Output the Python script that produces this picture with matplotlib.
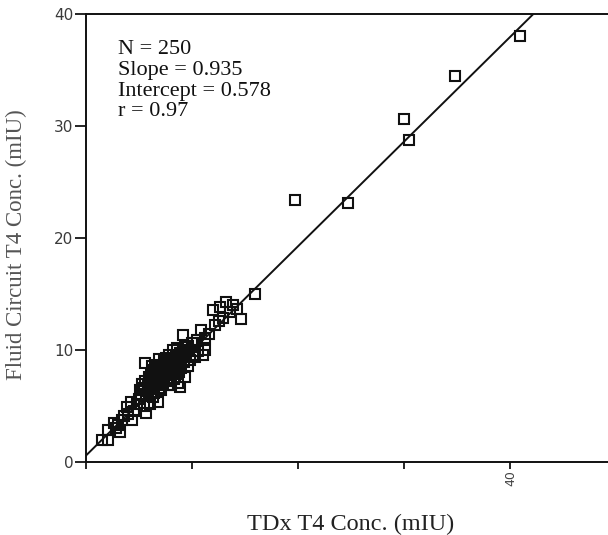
import matplotlib
matplotlib.use("Agg")
import matplotlib.pyplot as plt
import numpy as np

# TDx vs Fluid Circuit T4 concentrations
tdx = [1.5, 2.1, 2.1, 2.6, 3.2, 3.4, 4.3, 3.9, 4.2, 5.1, 5.7, 6.8, 2.8, 3.0, 3.6, 4.5, 4.8, 5.0, 4.0, 5.5, 6.0, 6.3,
       5.2, 5.4, 5.6, 5.8, 5.9, 6.0, 6.1, 6.2, 6.3, 6.4, 6.5, 6.6, 6.7, 6.8, 6.9, 7.0, 7.1, 7.2, 7.3, 7.4, 7.5, 7.6,
       7.7, 7.8, 7.9, 8.0, 8.1, 8.2, 8.3, 8.4, 8.5, 8.6, 8.7, 8.8, 8.9, 9.0, 9.1, 9.1, 9.2, 9.3, 9.4, 9.5, 9.6, 9.7,
       9.8, 10.0, 10.1, 5.6, 5.3, 5.7, 6.4, 7.1, 7.6, 8.0, 6.9, 6.2, 5.5, 6.0, 6.6, 7.3, 7.8, 8.6, 8.9, 9.3, 8.4, 7.0,
       6.8, 7.5, 8.2, 8.8,
       6.1, 6.3, 6.5, 6.7, 6.9, 7.1, 7.2, 7.4, 7.6, 7.7, 7.9, 8.1, 8.3, 8.5, 8.7, 8.9, 9.0, 9.2, 9.4, 9.6,
       5.8, 5.9, 6.1, 6.6, 7.0, 7.4, 7.8, 8.2, 8.5, 9.0,
       10.1, 10.3, 10.8, 11.2, 11.2, 12.0, 12.2, 12.9, 13.2, 14.2, 14.6, 15.9, 10.5, 11.6, 12.5, 13.6, 13.9, 11.0,
       10.6, 12.6,
       19.7, 24.7, 30.0, 30.4, 34.8, 40.9]
fluid = [2.0, 2.0, 2.85, 3.5, 2.7, 3.75, 3.75, 4.9, 5.4, 6.4, 4.4, 5.4, 3.0, 3.3, 4.1, 4.6, 5.2, 5.6, 4.3, 5.0, 5.2, 5.8,
         6.0, 6.6, 7.2, 6.3, 7.6, 6.8, 7.9, 7.1, 6.5, 8.2, 7.4, 6.9, 8.7, 7.7, 6.6, 8.0, 7.3, 8.5, 7.0, 9.0, 7.8, 8.3,
         6.9, 8.8, 7.5, 9.2, 8.1, 10.0, 7.4, 8.6, 9.5, 7.9, 7.1, 9.0, 6.7, 8.4, 9.8, 11.3, 8.9, 7.6, 9.4, 10.3, 8.6, 10.0,
         9.1, 10.6, 9.6, 8.8, 7.0, 5.9, 6.2, 6.4, 7.2, 6.9, 9.2, 8.6, 6.5, 7.5, 7.9, 8.1, 9.6, 10.2, 9.7, 10.4, 9.0, 7.0,
         8.3, 9.3, 8.4, 8.0,
         7.0, 7.4, 8.0, 7.6, 8.2, 8.4, 7.7, 8.1, 8.8, 8.0, 8.6, 9.0, 8.8, 9.0, 9.3, 9.2, 9.6, 9.9, 10.0, 10.4,
         7.0, 6.5, 6.2, 7.2, 7.6, 7.4, 7.9, 8.0, 8.3, 9.0,
         10.6, 9.4, 11.8, 11.1, 10.0, 13.6, 12.2, 12.9, 14.3, 13.7, 12.8, 15.0, 10.9, 11.4, 12.6, 13.4, 14.0, 9.6,
         9.9, 13.8,
         23.4, 23.1, 30.6, 28.75, 34.5, 38.0]

slope = 0.935
intercept = 0.578
stats = ["N = 250", "Slope = 0.935", "Intercept = 0.578", "r = 0.97"]

fig = plt.figure(figsize=(6.08, 5.35), dpi=100)
ax = fig.add_axes([0.1414, 0.1364, 0.8586, 0.8374])

ax.plot(tdx, fluid, 's', ms=7.5, mfc='none', mec='#111111', mew=1.5)

xl = np.array([0, (40 - intercept) / slope])
ax.plot(xl, slope * xl + intercept, '-', color='#111111', lw=1.4)

ax.set_xlim(0, 49.2)
ax.set_ylim(0, 40)
ax.set_yticks([0, 10, 20, 30, 40])
ax.set_xticks([0, 10, 20, 30, 40])
ax.set_xticklabels(['', '', '', '', '40'], rotation=90)
ax.spines['right'].set_visible(False)
for s in ['left', 'bottom', 'top']:
    ax.spines[s].set_linewidth(1.4)
    ax.spines[s].set_color('#111111')
ax.tick_params(axis='y', length=8, width=1.2, labelsize=11, labelcolor='#3a3a3a', pad=1)
ax.tick_params(axis='x', length=5, width=1.2, labelsize=9, labelcolor='#444444', pad=1)
for lab in ax.get_xticklabels() + ax.get_yticklabels():
    lab.set_family('DejaVu Sans')

ax.text(0.0605, 0.942, "\n".join(stats), transform=ax.transAxes, va='top', ha='left',
        fontsize=16, family='Liberation Serif', color='#111111', linespacing=1.13)

fig.text(351 / 608, 5 / 535, "TDx T4 Conc. (mIU)", family='Liberation Serif', fontsize=17.5,
         color='#222222', ha='center', va='baseline')
fig.text(16 / 608, 1 - 245 / 535, "Fluid Circuit T4 Conc. (mIU)", family='Liberation Serif',
         fontsize=16.5, color='#555555', ha='center', va='center', rotation=90)

fig.savefig("out.png", dpi=100)
